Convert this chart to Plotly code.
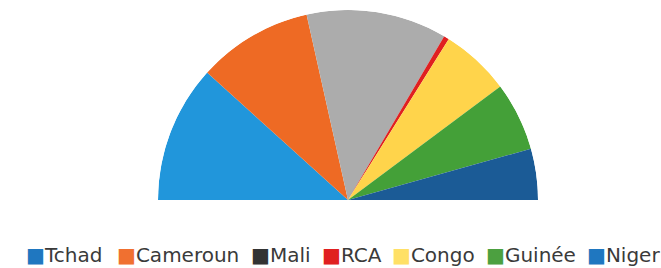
import plotly.graph_objects as go

# Data (share of the half circle)
categories = ["Tchad", "Cameroun", "Mali", "RCA", "Congo", "Guinée", "Niger"]
values = [23.4, 19.6, 23.9, 0.9, 11.8, 11.7, 8.7]
slice_colors = ["#2196DB", "#EE6A24", "#ACACAC", "#E02020", "#FFD44B", "#44A038", "#1B5B96"]
legend_colors = ["#1F77C0", "#F07030", "#333333", "#E02020", "#FFE066", "#4CA040", "#1F77C0"]

W, H = 661, 268
cx, cy, R = 348, 200, 190

total = sum(values)
fig = go.Figure()
start = 180.0
for name, v, col in zip(categories, values, slice_colors):
    w = v / total * 180.0
    fig.add_trace(go.Barpolar(
        r=[1], theta=[start - w / 2], width=[w], base=0,
        name=name, marker=dict(color=col, line=dict(width=0)),
        showlegend=False, hoverinfo="name"))
    start -= w

fig.update_layout(
    width=W, height=H,
    margin=dict(l=0, r=0, t=0, b=0),
    paper_bgcolor="white",
    plot_bgcolor="white",
    polar=dict(
        domain=dict(x=[(cx - R) / W, (cx + R) / W], y=[(H - cy) / H, (H - cy + R) / H]),
        sector=[0, 180],
        hole=0,
        bgcolor="white",
        bargap=0,
        radialaxis=dict(visible=False, range=[0, 1]),
        angularaxis=dict(visible=False, direction="counterclockwise", rotation=0),
    ),
    showlegend=False,
)

# legend row
legend_x = [24, 115, 249, 320, 390, 484, 585]
for name, col, x in zip(categories, legend_colors, legend_x):
    fig.add_annotation(
        x=x / W, y=(H - 255) / H, xref="paper", yref="paper",
        xanchor="left", yanchor="middle", showarrow=False,
        text=f"<span style='color:{col}'>■</span>{name}",
        font=dict(family="DejaVu Sans", size=20, color="#3A3A3A"),
    )

fig.write_html(
    "out.html",
    config={"displayModeBar": False},
    post_script="document.body.style.margin='0';document.body.style.overflow='hidden';",
)
